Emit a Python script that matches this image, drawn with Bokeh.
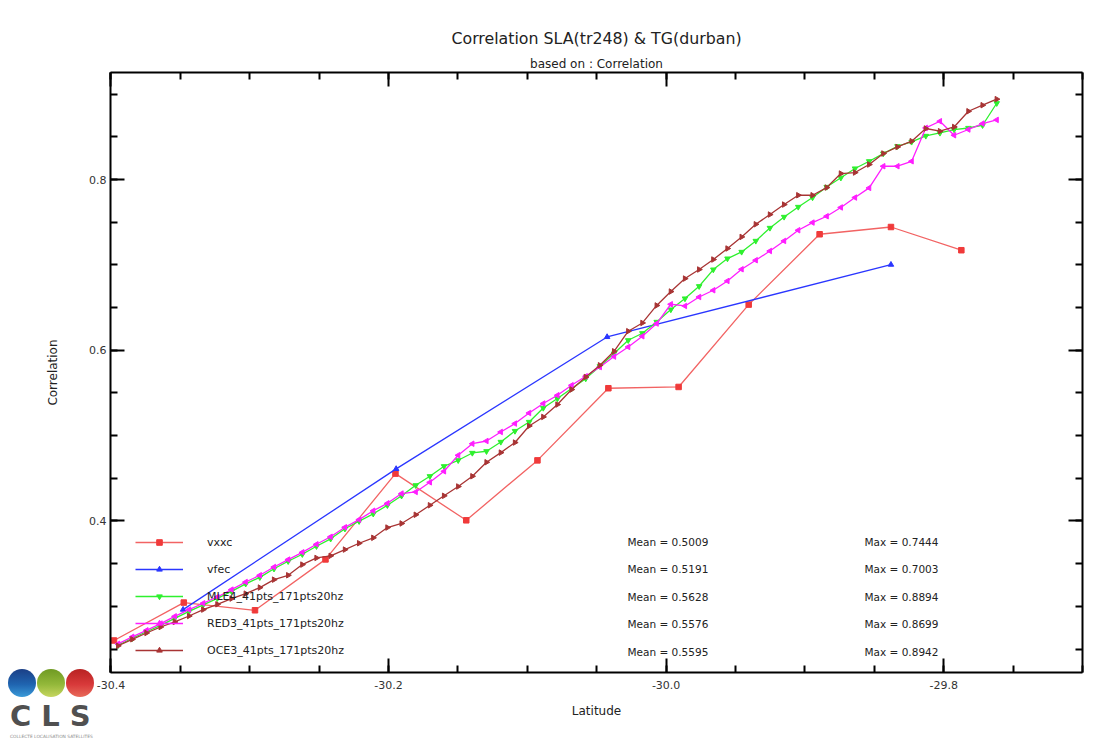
import numpy as np
from bokeh.plotting import figure
from bokeh.layouts import column
from bokeh.models import (LinearAxis, SingleIntervalTicker, NumeralTickFormatter, Range1d,
                          Legend, LegendItem, Label, CustomJSTickFormatter, Title, Div)
from bokeh.embed import file_html
from bokeh.resources import INLINE

FONT = "DejaVu Sans"

title_text = "Correlation SLA(tr248) & TG(durban)"
subtitle_text = "based on : Correlation"
x_label = "Latitude"
y_label = "Correlation"

series_names = ["vxxc", "vfec", "MLE4_41pts_171pts20hz", "RED3_41pts_171pts20hz", "OCE3_41pts_171pts20hz"]
mean_texts = ["Mean = 0.5009", "Mean = 0.5191", "Mean = 0.5628", "Mean = 0.5576", "Mean = 0.5595"]
max_texts = ["Max = 0.7444", "Max = 0.7003", "Max = 0.8894", "Max = 0.8699", "Max = 0.8942"]

# 1 Hz series
vxxc_lat = [-30.3978, -30.3475, -30.2962, -30.2454, -30.1950, -30.1440, -30.0927,
            -30.0416, -29.9910, -29.9405, -29.8894, -29.8380, -29.7873]
vxxc_corr = [0.2600, 0.3044, 0.2954, 0.3550, 0.4555, 0.4008, 0.4710,
             0.5555, 0.5570, 0.6535, 0.7359, 0.7444, 0.7172]

vfec_lat = [-30.3480, -30.1945, -30.0425, -29.8380]
vfec_corr = [0.2962, 0.4610, 0.6156, 0.7003]

# 20 Hz based series
lat_20hz = [-30.3948, -30.3846, -30.3744, -30.3642, -30.3540, -30.3437, -30.3335, -30.3233,
            -30.3131, -30.3029, -30.2927, -30.2825, -30.2723, -30.2621, -30.2519, -30.2417,
            -30.2314, -30.2212, -30.2110, -30.2008, -30.1906, -30.1804, -30.1702, -30.1600,
            -30.1498, -30.1396, -30.1294, -30.1191, -30.1089, -30.0987, -30.0885, -30.0783,
            -30.0681, -30.0579, -30.0477, -30.0375, -30.0273, -30.0171, -30.0068, -29.9966,
            -29.9864, -29.9762, -29.9660, -29.9558, -29.9456, -29.9354, -29.9252, -29.9150,
            -29.9048, -29.8945, -29.8843, -29.8741, -29.8639, -29.8537, -29.8435, -29.8333,
            -29.8231, -29.8129, -29.8027, -29.7925, -29.7822, -29.7720, -29.7618]

mle4_corr = [0.2544, 0.2626, 0.2702, 0.2778, 0.2860, 0.2942, 0.3018, 0.3094,
             0.3176, 0.3264, 0.3340, 0.3440, 0.3528, 0.3610, 0.3704, 0.3791,
             0.3909, 0.3997, 0.4084, 0.4184, 0.4295, 0.4418, 0.4524, 0.4641,
             0.4711, 0.4797, 0.4817, 0.4926, 0.5054, 0.5160, 0.5324, 0.5434,
             0.5551, 0.5668, 0.5813, 0.5961, 0.6117, 0.6199, 0.6332, 0.6477,
             0.6606, 0.6750, 0.6945, 0.7074, 0.7152, 0.7281, 0.7433, 0.7562,
             0.7679, 0.7789, 0.7913, 0.8021, 0.8129, 0.8214, 0.8304, 0.8390,
             0.8441, 0.8511, 0.8546, 0.8585, 0.8604, 0.8636, 0.8894]

red3_corr = [0.2561, 0.2643, 0.2719, 0.2798, 0.2883, 0.2962, 0.3036, 0.3110,
             0.3196, 0.3285, 0.3364, 0.3461, 0.3548, 0.3633, 0.3727, 0.3815,
             0.3926, 0.4016, 0.4120, 0.4207, 0.4321, 0.4340, 0.4453, 0.4582,
             0.4770, 0.4905, 0.4937, 0.5043, 0.5141, 0.5265, 0.5376, 0.5473,
             0.5590, 0.5695, 0.5804, 0.5926, 0.6039, 0.6164, 0.6313, 0.6539,
             0.6519, 0.6624, 0.6703, 0.6812, 0.6949, 0.7055, 0.7163, 0.7281,
             0.7406, 0.7496, 0.7570, 0.7673, 0.7789, 0.7902, 0.8156, 0.8156,
             0.8214, 0.8605, 0.8683, 0.8519, 0.8586, 0.8656, 0.8699]

oce3_corr = [0.2538, 0.2614, 0.2688, 0.2758, 0.2817, 0.2887, 0.2962, 0.3024,
             0.3091, 0.3149, 0.3220, 0.3313, 0.3364, 0.3489, 0.3567, 0.3592,
             0.3665, 0.3739, 0.3803, 0.3923, 0.3971, 0.4073, 0.4184, 0.4295,
             0.4404, 0.4524, 0.4688, 0.4801, 0.4919, 0.5113, 0.5219, 0.5364,
             0.5540, 0.5687, 0.5824, 0.5988, 0.6223, 0.6320, 0.6525, 0.6688,
             0.6840, 0.6946, 0.7063, 0.7192, 0.7328, 0.7476, 0.7590, 0.7707,
             0.7816, 0.7816, 0.7906, 0.8070, 0.8082, 0.8176, 0.8305, 0.8382,
             0.8449, 0.8598, 0.8566, 0.8616, 0.8800, 0.8871, 0.8942]

p = figure(width=1114, height=741,
           x_range=Range1d(-30.4003, -29.7), y_range=Range1d(0.2225, 0.9254),
           output_backend="svg", toolbar_location=None,
           x_axis_location=None, y_axis_location=None,
           min_border_left=110, min_border_right=32, min_border_top=72, min_border_bottom=69)
p.background_fill_color = "white"
p.border_fill_color = "white"
p.outline_line_color = None
p.xgrid.visible = False
p.ygrid.visible = False


def make_axis(ticker, show_labels, label=None):
    ax = LinearAxis(ticker=ticker,
                    major_tick_in=14, major_tick_out=0,
                    minor_tick_in=7, minor_tick_out=0,
                    major_tick_line_width=2, minor_tick_line_width=2,
                    major_tick_line_color="black", minor_tick_line_color="black",
                    axis_line_width=2, axis_line_color="black",
                    major_label_text_font=FONT, major_label_text_font_size="11px",
                    major_label_text_color="#333333")
    if show_labels:
        ax.formatter = NumeralTickFormatter(format="0.0")
    else:
        ax.formatter = CustomJSTickFormatter(code="return ''")
        ax.major_label_standoff = 0
        ax.major_label_text_font_size = "0px"
    if label is not None:
        ax.axis_label = label
        ax.axis_label_text_font = FONT
        ax.axis_label_text_font_size = "12px"
        ax.axis_label_text_font_style = "normal"
        ax.axis_label_text_color = "#222222"
    return ax


xt = SingleIntervalTicker(interval=0.2, num_minor_ticks=4)
yt = SingleIntervalTicker(interval=0.2, num_minor_ticks=4)

xb = make_axis(xt, True, x_label)
xb.major_label_standoff = 8
xb.axis_label_standoff = 12
p.add_layout(xb, "below")
xa = make_axis(xt, False)
p.add_layout(xa, "above")

yl = make_axis(yt, True, y_label)
yl.major_label_standoff = 4
yl.axis_label_standoff = 26
p.add_layout(yl, "left")
yr = make_axis(yt, False)
p.add_layout(yr, "right")

# titles
p.add_layout(Title(text=subtitle_text, align="center", text_font=FONT, text_font_size="12px",
                   text_font_style="normal", text_color="#222222", standoff=4), "above")
p.add_layout(Title(text=title_text, align="center", text_font=FONT, text_font_size="15.8px",
                   text_font_style="normal", text_color="#222222", standoff=9), "above")

# series
c_vxxc_line, c_vxxc_mark = "#f26363", "#f03a3a"
c_vfec = "#2a36ff"
c_mle4 = "#2ef02e"
c_red3 = "#ff1eff"
c_oce3 = "#a83434"

r1l = p.line(vxxc_lat, vxxc_corr, line_color=c_vxxc_line, line_width=1.3)
r1m = p.scatter(vxxc_lat, vxxc_corr, marker="square", size=5.5, fill_color=c_vxxc_mark, line_color=c_vxxc_mark)

r2l = p.line(vfec_lat, vfec_corr, line_color=c_vfec, line_width=1.3)
r2m = p.scatter(vfec_lat, vfec_corr, marker="triangle", size=5.5, fill_color=c_vfec, line_color=c_vfec)

r3l = p.line(lat_20hz, mle4_corr, line_color=c_mle4, line_width=1.3)
r3m = p.scatter(lat_20hz, mle4_corr, marker="inverted_triangle", size=5.5, fill_color=c_mle4, line_color=c_mle4)

r4l = p.line(lat_20hz, red3_corr, line_color=c_red3, line_width=1.3)
r4m = p.scatter(lat_20hz, red3_corr, marker="triangle", angle=np.pi / 2, size=5.5, fill_color=c_red3, line_color=c_red3)

r5l = p.line(lat_20hz, oce3_corr, line_color=c_oce3, line_width=1.3)
r5m = p.scatter(lat_20hz, oce3_corr, marker="triangle", angle=-np.pi / 2, size=5.5, fill_color=c_oce3, line_color=c_oce3)

renderers = [(r1l, r1m), (r2l, r2m), (r3l, r3m), (r4l, r4m), (r5l, r5m)]
legend = Legend(items=[LegendItem(label=n, renderers=list(r)) for n, r in zip(series_names, renderers)],
                location=(25, 12), orientation="vertical",
                glyph_width=48, glyph_height=14, label_height=20, label_standoff=24,
                spacing=7, padding=0, margin=0,
                border_line_alpha=0, background_fill_alpha=0,
                label_text_font=FONT, label_text_font_size="11px", label_text_color="#222222")
p.add_layout(legend)

# statistics column (frame-relative screen units)
for i, (mt, xt_) in enumerate(zip(mean_texts, max_texts)):
    yy = 131 - 27.5 * i
    p.add_layout(Label(x=517, y=yy, x_units="screen", y_units="screen", text=mt,
                       text_font=FONT, text_font_size="10.5px", text_color="#222222",
                       text_baseline="middle", text_align="left"))
    p.add_layout(Label(x=754, y=yy, x_units="screen", y_units="screen", text=xt_,
                       text_font=FONT, text_font_size="10.5px", text_color="#222222",
                       text_baseline="middle", text_align="left"))

# CLS logo, overlaid in the bottom-left corner of the page
logo_html = """
<div style="position:relative;width:100px;height:78px;font-family:'DejaVu Sans',sans-serif;">
  <div style="position:absolute;left:8px;top:5px;width:28px;height:28px;border-radius:50%;
       background:linear-gradient(180deg,#1b3f86 0%,#1f64b0 55%,#3a9ad8 100%);"></div>
  <div style="position:absolute;left:37px;top:5px;width:28px;height:28px;border-radius:50%;
       background:linear-gradient(180deg,#6f9a22 0%,#93b83a 55%,#c6d660 100%);"></div>
  <div style="position:absolute;left:66px;top:5px;width:28px;height:28px;border-radius:50%;
       background:linear-gradient(180deg,#b82222 0%,#d8393a 55%,#e86a5a 100%);"></div>
  <div style="position:absolute;left:10px;top:38px;font-size:29px;line-height:29px;font-weight:bold;
       letter-spacing:10px;color:#505050;white-space:nowrap;">CLS</div>
  <div style="position:absolute;left:10px;top:70px;font-size:4.4px;line-height:5px;color:#8a8a8a;
       white-space:nowrap;">COLLECTE LOCALISATION SATELLITES</div>
</div>
"""
logo = Div(text=logo_html, width=100, height=78,
           styles={"position": "absolute", "left": "-5px", "top": "659px"})

layout = column(p, logo)
open("out.html", "w").write(file_html(layout, INLINE))
